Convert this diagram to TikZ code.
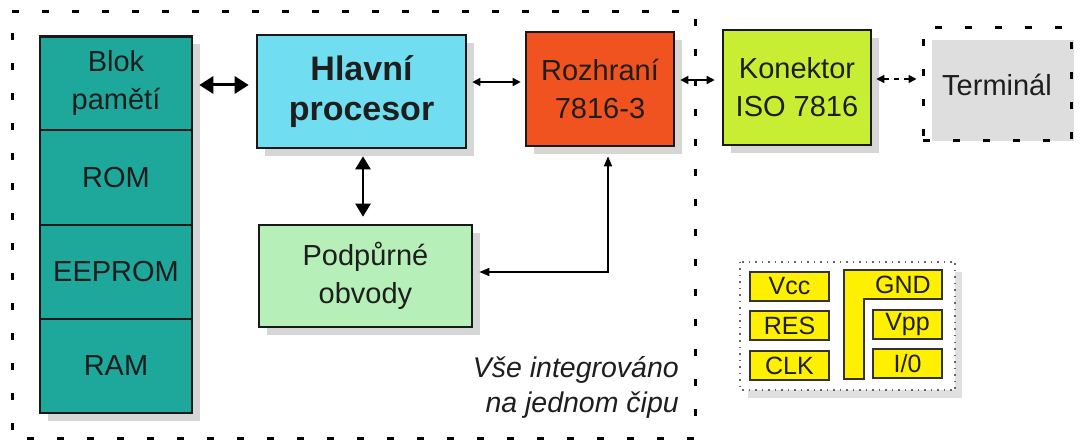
\documentclass[tikz,border=0pt]{standalone}
\usepackage{fontspec}
\setmainfont{Liberation Sans}
\usetikzlibrary{arrows.meta,shadows,calc}
\definecolor{memc}{RGB}{30,168,155}
\definecolor{procc}{RGB}{112,222,240}
\definecolor{rozc}{RGB}{240,82,32}
\definecolor{konc}{RGB}{200,238,52}
\definecolor{podc}{RGB}{182,240,184}
\definecolor{pinc}{RGB}{255,240,0}
\definecolor{txt}{RGB}{30,30,30}
\tikzset{
  box/.style={draw=black!90, line width=2.6pt, inner sep=0pt, align=center, text=txt,
    font=\fontsize{29}{38}\selectfont,
    drop shadow={shadow xshift=8pt, shadow yshift=-8pt, fill=black!16, opacity=1}},
  pin/.style={draw=black!80, line width=1.2pt, fill=pinc, inner sep=0pt, text=txt,
    font=\fontsize{25}{28}\selectfont},
  thickarr/.style={line width=3pt, {Triangle[length=14pt,width=17pt]}-{Triangle[length=14pt,width=17pt]}},
  midarr/.style={line width=2.5pt, {Triangle[length=13pt,width=15pt]}-{Triangle[length=13pt,width=15pt]}},
  thinarr/.style={line width=1.5pt, {Triangle[length=8pt,width=8pt]}-{Triangle[length=8pt,width=8pt]}},
  outerdash/.style={line width=3pt, dash pattern=on 7pt off 23pt},
}
\begin{document}
\begin{tikzpicture}[x=1pt,y=-1pt]
\useasboundingbox (0,0) rectangle (1087,446);
\fill[white] (0,0) rectangle (1087,446);
% outer chip boundary
\draw[outerdash] (12,12) -- (695,12) -- (695,438) -- (12,438) -- cycle;
% memory column
\node[box, fill=memc, minimum width=152pt, minimum height=94pt] (mem1) at (116,83.5) {Blok\\pamětí};
\node[box, fill=memc, minimum width=152pt, minimum height=95pt] (mem2) at (116,177.5) {ROM};
\node[box, fill=memc, minimum width=152pt, minimum height=94pt] (mem3) at (116,272) {EEPROM};
\node[box, fill=memc, minimum width=152pt, minimum height=94pt] (mem4) at (116,366) {RAM};
% processor
\node[box, fill=procc, minimum width=209pt, minimum height=113pt,
  font=\fontsize{34}{40}\selectfont\bfseries] (proc) at (361.5,91.5) {Hlavní\\procesor};
\node[box, fill=rozc, minimum width=148pt, minimum height=114pt] (roz) at (600,89) {Rozhraní\\7816-3};
\node[box, fill=konc, minimum width=148pt, minimum height=115pt] (kon) at (797,87.5) {Konektor\\ISO 7816};
\node[box, fill=podc, minimum width=213pt, minimum height=102pt] (pod) at (365.5,276) {Podpůrné\\obvody};
% terminal
\fill[black!13] (932,40) rectangle (1074,141);
\node[outerdash, draw, inner sep=0pt, minimum width=148pt, minimum height=113pt, text=txt,
  font=\fontsize{29}{38}\selectfont] (term) at (997,84.5) {Terminál};
% arrows
\draw[thickarr] ([xshift=6pt,yshift=-1.5pt]mem1.east) -- ([xshift=-7pt,yshift=-1.5pt]mem1.east -| proc.west);
\draw[thinarr] ([xshift=5pt,yshift=9.5pt]proc.east) -- ([xshift=-4pt,yshift=9.5pt]proc.east -| roz.west);
\draw[thinarr] ([xshift=5pt,yshift=9pt]roz.east) -- ([xshift=-7pt,yshift=9pt]roz.east -| kon.west);
\draw[thinarr, dash pattern=on 5pt off 5pt] ([xshift=4pt,yshift=8.5pt]kon.east) -- ([xshift=-5pt,yshift=8.5pt]kon.east -| term.west);
\draw[midarr] ([xshift=1.5pt,yshift=-7pt]proc.south) -- ([xshift=1.5pt,yshift=7pt]proc.south |- pod.north);
\draw[line width=1.6pt, {Triangle[length=10pt,width=8pt]}-{Triangle[length=10pt,width=8pt]}]
  ([xshift=6pt,yshift=4pt]pod.east) -| ([xshift=8pt,yshift=-9pt]roz.south);
% caption
\node[anchor=east, align=right, text=txt, inner sep=0pt,
  font=\fontsize{28.5}{35}\selectfont\itshape] (cap) at (679,387.5) {Vše integrováno\\na jednom čipu};
% contact pads
\fill[black!12] (748,272) rectangle (962,398);
\filldraw[fill=white, draw=black!60, line width=1.3pt, dash pattern=on 1.5pt off 5pt] (740,262) rectangle (955,390);
\node[pin, minimum width=79pt, minimum height=29pt] (vcc) at (789.5,286.5) {Vcc};
\node[pin, minimum width=79pt, minimum height=29pt] (res) at (789.5,325.5) {RES};
\node[pin, minimum width=79pt, minimum height=29pt] (clk) at (789.5,365.5) {CLK};
\node[pin, minimum width=69pt, minimum height=29pt] (vpp) at (907.5,324.5) {Vpp};
\node[pin, minimum width=69pt, minimum height=29pt] (io) at (907.5,363.5) {I/0};
\filldraw[fill=pinc, draw=black!80, line width=1.2pt] (844,270) -- (942,270) -- (942,299) -- (864,299) -- (864,379) -- (844,379) -- cycle;
\node[text=txt, font=\fontsize{25}{28}\selectfont, inner sep=0pt] (gnd) at (903,285) {GND};
\end{tikzpicture}
\end{document}
